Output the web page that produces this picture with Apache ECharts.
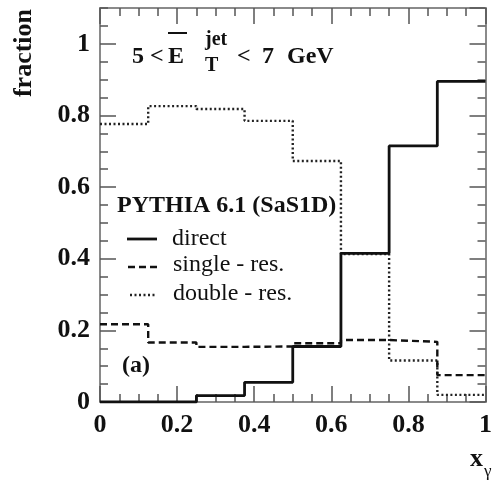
<!DOCTYPE html>
<html>
<head>
<meta charset="utf-8">
<script src="https://cdn.jsdelivr.net/npm/echarts@6/dist/echarts.min.js"></script>
<style>html,body{margin:0;padding:0;background:#fff;}#c{width:495px;height:483px;}</style>
</head>
<body>
<div id="c"></div>
<script>
// ---- data ----
const binEdges = [0, 0.125, 0.25, 0.375, 0.5, 0.625, 0.75, 0.875, 1];
const directVals = [0.0, 0.0, 0.018, 0.055, 0.155, 0.415, 0.715, 0.895];
const singleVals = [0.217, 0.166, 0.154, 0.155, 0.164, 0.173, 0.168, 0.075];
const doubleVals = [0.776, 0.826, 0.818, 0.785, 0.673, 0.413, 0.116, 0.02];
const xTickLabels = ['0', '0.2', '0.4', '0.6', '0.8', '1'];
const yTickLabels = ['0', '0.2', '0.4', '0.6', '0.8', '1'];
const legendNames = ['direct', 'single - res.', 'double - res.'];

function stepPoints(vals) {
  const pts = [];
  vals.forEach((v, i) => { pts.push([binEdges[i], v]); pts.push([binEdges[i + 1], v]); });
  return pts;
}
const FONT = 'Liberation Serif';
const tickCol = '#555';
const lineCol = '#8a8a8a';
function fmt(list) {
  return function (v) {
    const k = Math.round(v / 0.2);
    if (Math.abs(v - k * 0.2) > 1e-6 || k < 0 || k >= list.length) return '';
    return list[k];
  };
}
function axis(kind, pos, major, showLabel, showLine) {
  return {
    type: 'value', min: 0, max: kind === 'x' ? 1 : 1.1,
    interval: major ? 0.2 : 0.05,
    position: pos,
    splitLine: { show: false },
    axisLine: { show: showLine, onZero: false, lineStyle: { color: lineCol, width: 2 } },
    axisTick: { show: true, inside: true, length: major ? 16 : 8, lineStyle: { color: tickCol, width: 1.5 } },
    axisLabel: { show: showLabel, fontFamily: FONT, fontWeight: 'bold', fontSize: 26, color: '#111',
      margin: kind === 'x' ? 10 : 10, showMaxLabel: kind === 'x',
      formatter: fmt(kind === 'x' ? xTickLabels : yTickLabels) }
  };
}
const chart = echarts.init(document.getElementById('c'));
const lineStyles = [
  { color: '#111', width: 2.8, type: 'solid' },
  { color: '#111', width: 2.4, type: [7, 4] },
  { color: '#222', width: 2.4, type: [2, 2.5] }
];
function txt(x, y, s, font, extra) {
  return Object.assign({ type: 'text', x: x, y: y,
    style: { text: s, font: font, fill: '#111', verticalAlign: 'middle' } }, extra || {});
}
chart.setOption({
  animation: false,
  backgroundColor: '#fff',
  grid: { left: 100, right: 4, top: 8, bottom: 81, containLabel: false },
  xAxis: [axis('x', 'bottom', true, true, true), axis('x', 'bottom', false, false, false),
          axis('x', 'top', true, false, true), axis('x', 'top', false, false, false)],
  yAxis: [axis('y', 'left', true, true, true), axis('y', 'left', false, false, false),
          axis('y', 'right', true, false, true), axis('y', 'right', false, false, false)],
  series: [directVals, singleVals, doubleVals].map((vals, i) => ({
    name: legendNames[i], type: 'line', xAxisIndex: 0, yAxisIndex: 0,
    data: stepPoints(vals), symbol: 'none', lineStyle: lineStyles[i], z: 5 - i
  })),
  graphic: [
    txt(132, 57, '5 <', 'bold 24px ' + FONT),
    txt(168, 57, 'E', 'bold 24px ' + FONT),
    { type: 'rect', shape: { x: 168, y: 32, width: 19, height: 2 }, style: { fill: '#111' } },
    txt(205, 40, 'jet', 'bold 20px ' + FONT),
    txt(205, 66, 'T', 'bold 20px ' + FONT),
    txt(237, 57, '<', 'bold 24px ' + FONT),
    txt(262, 57, '7', 'bold 24px ' + FONT),
    txt(287, 57, 'GeV', 'bold 24px ' + FONT),
    txt(117, 206, 'PYTHIA 6.1 (SaS1D)', 'bold 24px ' + FONT),
    { type: 'line', shape: { x1: 127, y1: 239, x2: 157, y2: 239 }, style: { stroke: '#111', lineWidth: 2.8 } },
    { type: 'line', shape: { x1: 128, y1: 267, x2: 157, y2: 267 }, style: { stroke: '#111', lineWidth: 2.4, lineDash: [7, 4] } },
    { type: 'line', shape: { x1: 130, y1: 295, x2: 156, y2: 295 }, style: { stroke: '#222', lineWidth: 2.4, lineDash: [2, 2.5] } },
    txt(172, 239, legendNames[0], '24px ' + FONT),
    txt(173, 265, legendNames[1], '24px ' + FONT),
    txt(173, 294, legendNames[2], '24px ' + FONT),
    txt(122, 366, '(a)', 'bold 24px ' + FONT),
    { type: 'text', x: 24, y: 53, rotation: Math.PI / 2, style: { text: 'fraction', font: 'bold 26px ' + FONT, fill: '#111', align: 'center', verticalAlign: 'middle' } },
    txt(470, 459, 'x', 'bold 26px ' + FONT),
    txt(484, 472, 'γ', '17px ' + FONT)
  ]
});
</script>
</body>
</html>
